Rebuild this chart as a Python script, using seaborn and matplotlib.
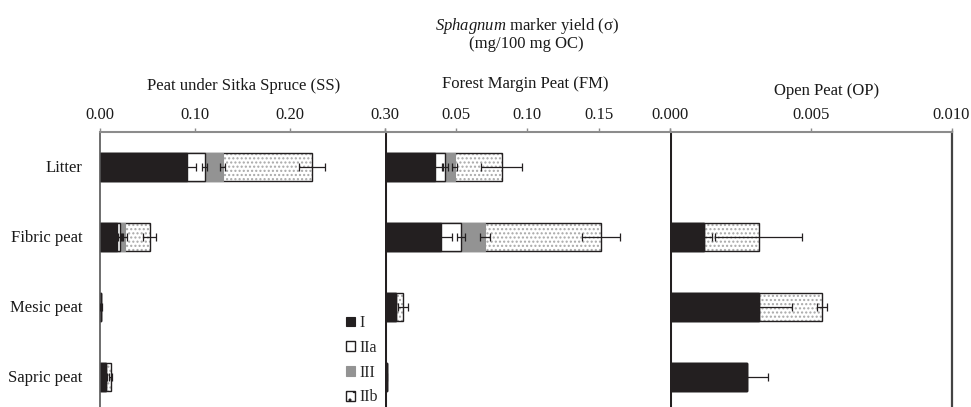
import numpy as np
import matplotlib
matplotlib.use("Agg")
import matplotlib.pyplot as plt
from matplotlib.patches import Patch
import seaborn as sns

# ---- data -------------------------------------------------------------
categories = ["Litter", "Fibric peat", "Mesic peat", "Sapric peat"]
series = ["I", "IIa", "III", "IIb"]

# Peat under Sitka Spruce (SS)
ss_I = [0.0916, 0.0186, 0.0018, 0.0068]
ss_IIa = [0.0190, 0.0028, 0.0, 0.0]
ss_III = [0.0190, 0.0052, 0.0, 0.0]
ss_IIb = [0.0940, 0.0263, 0.0, 0.0050]
ss_I_err = [0.0100, 0.0040, 0.0008, 0.0010]
ss_IIa_err = [0.0024, 0.0020, 0.0, 0.0]
ss_III_err = [0.0025, 0.0020, 0.0, 0.0]
ss_IIb_err = [0.0140, 0.0070, 0.0, 0.0015]

# Forest Margin Peat (FM)
fm_I = [0.0357, 0.0394, 0.0082, 0.0016]
fm_IIa = [0.0070, 0.0143, 0.0, 0.0]
fm_III = [0.0064, 0.0167, 0.0, 0.0]
fm_IIb = [0.0331, 0.0815, 0.0051, 0.0]
fm_I_err = [0.0047, 0.0077, 0.0, 0.0005]
fm_IIa_err = [0.0018, 0.0030, 0.0, 0.0]
fm_III_err = [0.0020, 0.0033, 0.0, 0.0]
fm_IIb_err = [0.0144, 0.0134, 0.0035, 0.0]

# Open Peat (OP)
op_I = [0.0, 0.00122, 0.00316, 0.00274]
op_IIa = [0.0, 0.0, 0.0, 0.0]
op_III = [0.0, 0.0, 0.0, 0.0]
op_IIb = [0.0, 0.00193, 0.00223, 0.0]
op_I_err = [0.0, 0.00026, 0.00118, 0.00074]
op_IIa_err = [0.0, 0.0, 0.0, 0.0]
op_III_err = [0.0, 0.0, 0.0, 0.0]
op_IIb_err = [0.0, 0.00155, 0.00017, 0.0]

panel_titles = ["Peat under Sitka Spruce (SS)", "Forest Margin Peat (FM)", "Open Peat (OP)"]
ss_ticks = [0.0, 0.1, 0.2, 0.3]
ss_ticklabels = ["0.00", "0.10", "0.20", "0.30"]
fm_ticks = [0.0, 0.05, 0.10, 0.15, 0.20]
fm_ticklabels = ["", "0.05", "0.10", "0.15", ""]
op_ticks = [0.0, 0.005, 0.010]
op_ticklabels = ["0.000", "0.005", "0.010"]

# ---- style ------------------------------------------------------------
sns.set_style("white")
plt.rcParams["font.family"] = ["Liberation Serif", "DejaVu Serif"]
plt.rcParams["mathtext.fontset"] = "custom"
plt.rcParams["mathtext.rm"] = "Liberation Serif"
plt.rcParams["mathtext.it"] = "Liberation Serif:italic"
plt.rcParams["hatch.linewidth"] = 1.0

BLACK = "#231f20"
GREY = "#939393"
DOTS = "#a8a8a8"
SPINE_GREY = "#8c8c8c"
TEXT = "#1a1a1a"
FS = 12

W, H = 971, 407
fig = plt.figure(figsize=(W / 100, H / 100), dpi=100)


def fig_axes(x0, x1, top, bottom):
    return fig.add_axes([x0 / W, (H - bottom) / H, (x1 - x0) / W, (bottom - top) / H])


axes = [
    fig_axes(99.5, 384.5, 131.5, 411.5),
    fig_axes(384.5, 670.0, 131.5, 411.5),
    fig_axes(670.0, 951.5, 131.5, 411.5),
]


def layer(ax, values, face, edge, lw, hatch=None):
    n0 = len(ax.patches)
    sns.barplot(x=values, y=categories, orient="h", ax=ax,
                color="white", saturation=1, width=0.4)
    for p in ax.patches[n0:]:
        p.set_facecolor(face)
        if hatch:
            p.set_hatch(hatch)
        p.set_edgecolor(edge)
        p.set_linewidth(lw)


def draw_panel(ax, seg, errs):
    c1 = np.array(seg[0])
    c2 = c1 + np.array(seg[1])
    c3 = c2 + np.array(seg[2])
    c4 = c3 + np.array(seg[3])
    # stacked bars drawn as overlapping cumulative totals, longest first
    layer(ax, c4, "white", DOTS, 0, hatch="....")
    layer(ax, c4, "none", BLACK, 1.0)
    layer(ax, c3, GREY, GREY, 0.8)
    layer(ax, c2, "white", BLACK, 1.0)
    layer(ax, c1, BLACK, BLACK, 1.0)
    ypos = np.arange(len(categories))
    for cum, part, err in zip([c1, c2, c3, c4], seg, errs):
        err = np.array(err)
        m = (np.array(part) > 0) & (err > 0)
        if m.any():
            ax.errorbar(cum[m], ypos[m], xerr=err[m], fmt="none",
                        ecolor=BLACK, elinewidth=0.9, capsize=3,
                        capthick=0.9, zorder=5)


draw_panel(axes[0], [ss_I, ss_IIa, ss_III, ss_IIb],
           [ss_I_err, ss_IIa_err, ss_III_err, ss_IIb_err])
draw_panel(axes[1], [fm_I, fm_IIa, fm_III, fm_IIb],
           [fm_I_err, fm_IIa_err, fm_III_err, fm_IIb_err])
draw_panel(axes[2], [op_I, op_IIa, op_III, op_IIb],
           [op_I_err, op_IIa_err, op_III_err, op_IIb_err])

limits = [(0, 0.30), (0, 0.20), (0, 0.010)]
ticks = [(ss_ticks, ss_ticklabels), (fm_ticks, fm_ticklabels), (op_ticks, op_ticklabels)]

for i, ax in enumerate(axes):
    ax.set_xlim(*limits[i])
    ax.set_ylim(3.5, -0.5)
    ax.set_xlabel("")
    ax.set_ylabel("")
    ax.xaxis.tick_top()
    ax.set_xticks(ticks[i][0], ticks[i][1])
    ax.tick_params(axis="x", direction="out", length=3, width=1,
                   color=SPINE_GREY, pad=3.4, labelsize=FS, labelcolor=TEXT)
    for s in ax.spines.values():
        s.set_visible(False)
    ax.spines["top"].set_visible(True)
    ax.spines["top"].set_color(SPINE_GREY)
    ax.spines["top"].set_linewidth(1.5)
    ax.spines["left"].set_visible(True)
    if i == 0:
        ax.spines["left"].set_color("#555555")
        ax.spines["left"].set_linewidth(1.2)
        ax.set_yticks(range(len(categories)), categories)
        ax.set_yticks([0.5, 1.5, 2.5], minor=True)
        ax.tick_params(axis="y", which="major", length=0, pad=12.5,
                       labelsize=FS, labelcolor=TEXT)
        ax.tick_params(axis="y", which="minor", direction="out", length=3,
                       width=1, color=SPINE_GREY)
    else:
        ax.spines["left"].set_color(BLACK)
        ax.spines["left"].set_linewidth(2.2)
        ax.set_yticks([])
        ax.tick_params(axis="y", which="both", length=0)
    ax.set_zorder(3 - i)

axes[2].spines["right"].set_visible(True)
axes[2].spines["right"].set_color("#444444")
axes[2].spines["right"].set_linewidth(1.6)

# headings
fig.text(526.7 / W, 1 - 26 / H, r"$\it{Sphagnum}$ marker yield (σ)",
         ha="center", va="center", fontsize=FS, color=TEXT)
fig.text(526.7 / W, 1 - 44 / H, "(mg/100 mg OC)",
         ha="center", va="center", fontsize=FS, color=TEXT)
for (x, y), t in zip([(244, 86), (525.5, 84), (826.7, 91)], panel_titles):
    fig.text(x / W, 1 - y / H, t, ha="center", va="center",
             fontsize=FS, color=TEXT)

# legend
handles = [
    Patch(facecolor=BLACK, edgecolor=BLACK, linewidth=0.8),
    Patch(facecolor="white", edgecolor=BLACK, linewidth=1.0),
    Patch(facecolor=GREY, edgecolor=GREY, linewidth=0.8),
    Patch(facecolor="white", edgecolor=BLACK, linewidth=1.0, hatch=".."),
]
fig.legend(handles, series, loc="upper left",
           bbox_to_anchor=(346 / W, 1 - 315 / H), frameon=False,
           handlelength=0.55, handleheight=0.55, handletextpad=0.3,
           labelspacing=0.55, borderpad=0, borderaxespad=0, fontsize=11.5)

fig.savefig("out.png", dpi=100)
